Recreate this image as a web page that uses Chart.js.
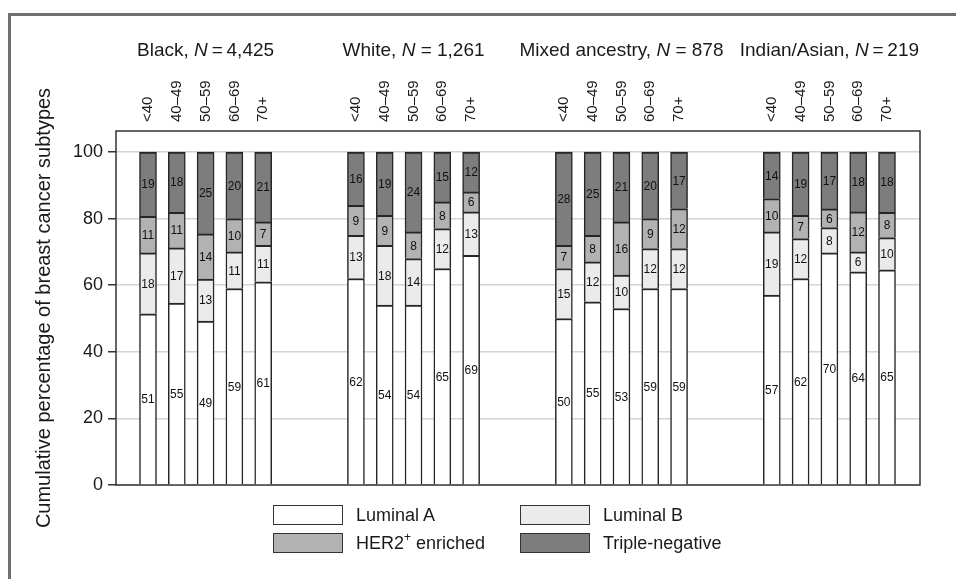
<!DOCTYPE html>
<html>
<head>
<meta charset="utf-8">
<script src="https://cdn.jsdelivr.net/npm/chart.js@4.4.1/dist/chart.umd.min.js"></script>
<style>
  html, body { margin: 0; padding: 0; background: #fff; }
  #wrap { position: relative; width: 956px; height: 579px; overflow: hidden;
          font-family: "Liberation Sans", Arial, sans-serif; color: #1a1a1a; }
  #frame { position: absolute; left: 8px; top: 13px; right: 0; bottom: 0;
           border-top: 3px solid #6f6f6f; border-left: 3px solid #6f6f6f; }
  canvas { position: absolute; left: 0; top: 0; }
  .item { position: absolute; height: 20px; display: flex; align-items: center;
          font-size: 18px; white-space: nowrap; }
  .swatch { box-sizing: border-box; width: 70px; height: 20px; border: 1.5px solid #333;
            margin-right: 13px; }
  .item sup { font-size: 12px; line-height: 0; position: relative; top: -1px; }
</style>
</head>
<body>
<div id="wrap">
  <div id="frame"></div>
  <canvas id="chart" width="956" height="579"></canvas>
  <div id="legend"></div>
</div>
<script>
// Age bands shown for every population group
const ageGroups = ['<40', '40–49', '50–59', '60–69', '70+'];
const populations = ['Black', 'White', 'Mixed ancestry', 'Indian/Asian'];
const populationN = ['4,425', '1,261', '878', '219'];
const equalsSign = ['\u2009=\u2009', ' = ', ' = ', '\u2009=\u2009'];

// Percentage of each subtype per population and age band (population-major order)
const luminalA  = [51.4, 54.6, 49.2, 59, 61,   62, 54, 54, 65, 69,   50, 55, 53, 59, 59,   57, 62, 69.7, 64, 64.6];
const luminalB  = [18.3, 16.6, 12.6, 11, 11,   13, 18, 14, 12, 13,   15, 12, 10, 12, 12,   19, 12, 7.6, 6, 9.7];
const her2      = [11.0, 10.7, 13.6, 10, 7,    9, 9, 8, 8, 6,        7, 8, 16, 9, 12,      10, 7, 5.6, 12, 7.6];
const tripleNeg = [19.3, 18.1, 24.6, 20, 21,   16, 19, 24, 15, 12,   28, 25, 21, 20, 17,   14, 19, 17.1, 18, 18.1];

const subtypeNames = ['Luminal A', 'Luminal B', 'HER2⁺ enriched', 'Triple-negative'];
const subtypeColors = ['#ffffff', '#ebebeb', '#b2b2b2', '#7d7d7d'];
const yTicks = [0, 20, 40, 60, 80, 100];

const FONT = '"Liberation Sans", Arial, sans-serif';

// Bars sit on a linear x axis: five bars per population, with a wider gap between populations
const SLOT_GAP = 2.22;
const X_MIN = -1.111, X_MAX = 26.806;
const positions = [];
populations.forEach((p, g) => ageGroups.forEach((a, i) => positions.push(g * (ageGroups.length + SLOT_GAP) + i)));

const seriesList = [luminalA, luminalB, her2, tripleNeg];
const datasets = seriesList.map((vals, s) => ({
  label: subtypeNames[s],
  data: positions.map((x, k) => ({ x: x, y: vals[k] })),
  backgroundColor: subtypeColors[s],
  borderColor: '#262626',
  borderWidth: { top: 2, left: 1.5, right: 1.5, bottom: 0 },
  borderSkipped: false,
  barThickness: 17
}));

// Value printed in the middle of every segment
const segmentLabels = {
  id: 'segmentLabels',
  afterDatasetsDraw(chart) {
    const ctx = chart.ctx;
    ctx.save();
    ctx.font = '12px ' + FONT;
    ctx.fillStyle = '#111';
    ctx.textAlign = 'center';
    ctx.textBaseline = 'middle';
    chart.data.datasets.forEach((ds, d) => {
      chart.getDatasetMeta(d).data.forEach((el, k) => {
        ctx.fillText(String(Math.round(ds.data[k].y)), el.x, (el.y + el.base) / 2 + 1);
      });
    });
    ctx.restore();
  }
};

// Box around the plotting area
const plotBox = {
  id: 'plotBox',
  beforeDatasetsDraw(chart) {
    const { ctx, chartArea: a } = chart;
    ctx.save();
    ctx.strokeStyle = '#333';
    ctx.lineWidth = 1.5;
    ctx.strokeRect(a.left, a.top, a.right - a.left, a.bottom - a.top);
    ctx.restore();
  }
};

// Rotated age-band labels above each bar and population headings above each group
const headings = {
  id: 'headings',
  afterDraw(chart) {
    const { ctx, chartArea: a } = chart;
    const xs = chart.scales.x;
    ctx.save();
    ctx.fillStyle = '#1a1a1a';
    ctx.font = '15px ' + FONT;
    positions.forEach((p, k) => {
      ctx.save();
      ctx.translate(xs.getPixelForValue(p), a.top - 9);
      ctx.rotate(-Math.PI / 2);
      ctx.textAlign = 'left';
      ctx.textBaseline = 'middle';
      ctx.fillText(ageGroups[k % ageGroups.length], 0, 0);
      ctx.restore();
    });
    const n = ageGroups.length;
    populations.forEach((name, g) => {
      const cx = (xs.getPixelForValue(positions[g * n]) + xs.getPixelForValue(positions[g * n + n - 1])) / 2;
      const parts = [
        { t: name + ', ', f: '19px ' + FONT },
        { t: 'N', f: 'italic 19px ' + FONT },
        { t: equalsSign[g] + populationN[g], f: '19px ' + FONT }
      ];
      let w = 0;
      parts.forEach(pt => { ctx.font = pt.f; pt.w = ctx.measureText(pt.t).width; w += pt.w; });
      let x = cx - w / 2;
      ctx.textAlign = 'left';
      ctx.textBaseline = 'middle';
      parts.forEach(pt => { ctx.font = pt.f; ctx.fillText(pt.t, x, 51); x += pt.w; });
    });
    ctx.restore();
  }
};

new Chart(document.getElementById('chart'), {
  type: 'bar',
  data: { datasets: datasets },
  options: {
    responsive: false,
    animation: false,
    devicePixelRatio: 1,
    layout: { padding: { left: 12, top: 131, right: 36, bottom: 94 } },
    plugins: { legend: { display: false }, tooltip: { enabled: false } },
    scales: {
      x: {
        type: 'linear', stacked: true, display: false, offset: false, bounds: 'data',
        min: X_MIN, max: X_MAX,
        afterDataLimits(s) { s.min = X_MIN; s.max = X_MAX; },
        afterBuildTicks(s) { s.ticks = [{ value: X_MIN }, { value: X_MAX }]; }
      },
      y: {
        stacked: true, min: 0, max: 106.3,
        afterFit(s) { s.width = 104; },
        afterBuildTicks(s) { s.ticks = yTicks.map(v => ({ value: v })); },
        border: { display: false },
        grid: { color: '#d4d4d4', lineWidth: 1.5, tickLength: 8, tickColor: '#333', tickWidth: 1.5 },
        ticks: { font: { size: 18, family: FONT }, color: '#1a1a1a', padding: 5 },
        title: {
          display: true,
          text: 'Cumulative percentage of breast cancer subtypes',
          font: { size: 20, family: FONT },
          color: '#1a1a1a',
          padding: { top: 20, bottom: 0 }
        }
      }
    }
  },
  plugins: [plotBox, segmentLabels, headings]
});

// Two-column legend under the plot
const legendSpots = [[273, 505], [520, 505], [273, 533], [520, 533]];
const legendHtml = ['Luminal A', 'Luminal B', 'HER2<sup>+</sup> enriched', 'Triple-negative'];
const legendEl = document.getElementById('legend');
legendSpots.forEach(([x, y], s) => {
  const item = document.createElement('div');
  item.className = 'item';
  item.style.left = x + 'px';
  item.style.top = y + 'px';
  item.innerHTML = '<div class="swatch" style="background:' + subtypeColors[s] + '"></div><span>' + legendHtml[s] + '</span>';
  legendEl.appendChild(item);
});
</script>
</body>
</html>
